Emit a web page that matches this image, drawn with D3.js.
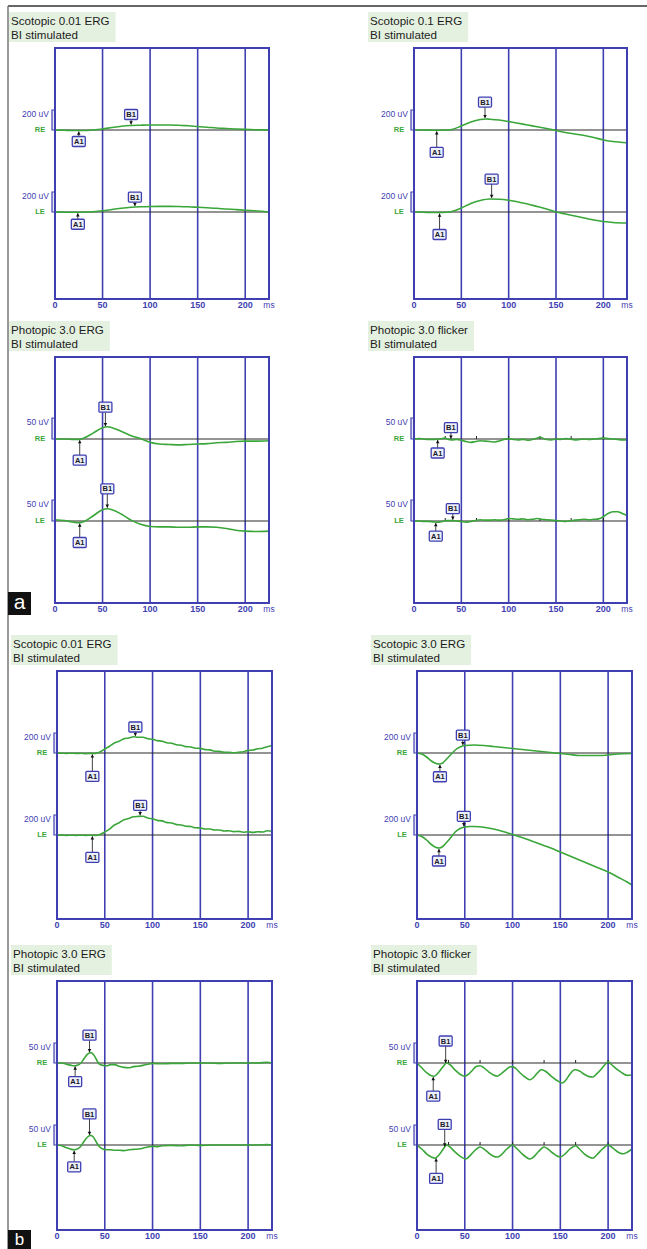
<!DOCTYPE html>
<html>

<head>
    <meta charset='utf-8'>
    <title>ERG</title>
    <script type='text/javascript' src='https://cdn.jsdelivr.net/npm/d3@7/dist/d3.min.js'></script>
    <style>
        body { margin: 0; background: #fff; }
        svg { display: block; font-family: 'Liberation Sans', Arial, sans-serif; }
    </style>
</head>

<body>
    <svg width='647' height='1249'></svg>
    <script type='text/javascript'>

        // ---- data (ms, uV) ----
        const titles = ['Scotopic 0.01 ERG', 'Scotopic 0.1 ERG', 'Photopic 3.0 ERG', 'Photopic 3.0 flicker',
            'Scotopic 0.01 ERG', 'Scotopic 3.0 ERG', 'Photopic 3.0 ERG', 'Photopic 3.0 flicker']
        const subtitle = 'BI stimulated'
        const unitValues = [200, 200, 50, 50, 200, 200, 50, 50]
        const eyes = ['RE', 'LE']
        const xTicks = [0, 50, 100, 150, 200]
        const stimTicks = [33, 66, 100, 133, 166, 200]
        const flickerPanels = [3, 7]

        const p1RE = [[0, 0], [10, -3], [20, -5], [30, -5], [40, 0], [50, 10], [60, 25], [70, 38], [80, 45], [90, 48], [100, 50], [110, 50], [120, 50], [130, 48], [140, 42], [150, 35], [160, 28], [170, 20], [180, 15], [190, 10], [200, 6], [210, 3], [225, 0]]
        const p1LE = [[0, 0], [10, -2], [20, -3], [30, -2], [40, 3], [50, 12], [60, 25], [70, 38], [80, 47], [90, 52], [100, 55], [110, 56], [120, 56], [130, 55], [140, 52], [150, 47], [160, 42], [170, 37], [180, 30], [190, 24], [200, 18], [210, 12], [220, 5], [225, 0]]
        const p2RE = [[0, 0], [10, 0], [20, -3], [30, -3], [40, 5], [50, 40], [60, 80], [70, 105], [76, 110], [80, 108], [90, 100], [100, 85], [110, 68], [120, 50], [130, 33], [140, 15], [150, -5], [160, -25], [170, -40], [180, -55], [190, -75], [200, -100], [210, -115], [225, -127]]
        const p2LE = [[0, 0], [10, -2], [20, -5], [30, -5], [40, 5], [50, 40], [60, 85], [70, 115], [80, 130], [90, 128], [100, 118], [110, 100], [120, 80], [130, 55], [140, 30], [150, 0], [160, -20], [170, -40], [180, -60], [190, -80], [200, -95], [210, -105], [225, -110]]
        const p3RE = [[0, 0], [10, 0], [20, -1], [25, -1], [30, 2], [40, 14], [50, 27], [55, 29], [60, 27], [70, 18], [80, 8], [90, 1], [100, -8], [110, -12], [120, -13], [130, -14], [140, -13], [150, -12], [160, -11], [170, -9], [180, -8], [190, -6], [200, -5], [210, -5], [225, -4]]
        const p3LE = [[0, 3], [10, 1], [20, -3], [25, -4], [30, -2], [40, 12], [50, 27], [55, 29], [60, 27], [70, 16], [80, 2], [90, -8], [100, -13], [110, -14], [120, -14], [130, -15], [140, -15], [150, -14], [160, -14], [170, -15], [180, -18], [190, -22], [200, -24], [210, -25], [225, -24]]
        const p4RE = [[0, 0], [5, 1], [10, 0], [15, -1], [20, -1], [25, 0], [30, 1], [33, 2], [35, 0], [40, -2], [45, -1], [50, -3], [55, -6], [60, -8], [65, -6], [70, -4], [75, -5], [80, -6], [85, -7], [90, -5], [95, -1], [100, 1], [105, -1], [110, -2], [115, -1], [120, -3], [125, -1], [130, 2], [133, 4], [136, 2], [140, -1], [145, -2], [150, 0], [155, -1], [160, 1], [165, 0], [170, -2], [175, -1], [180, 0], [185, -1], [190, 0], [195, 1], [200, 2], [205, 1], [210, 0], [215, -1], [220, -2], [225, -2]]
        const p4LE = [[0, 0], [5, 0], [10, -1], [15, -1], [20, -2], [25, -3], [30, -1], [35, 1], [40, 1], [45, 0], [50, -1], [55, -3], [60, -1], [65, 1], [70, 3], [75, 2], [80, 2], [85, 3], [90, 2], [95, 3], [100, 6], [105, 5], [110, 4], [115, 5], [120, 3], [125, 4], [130, 6], [135, 4], [140, 3], [145, 2], [150, 1], [155, 0], [160, -1], [165, 0], [170, 2], [175, 3], [180, 4], [185, 3], [190, 4], [195, 5], [200, 10], [205, 18], [210, 22], [215, 22], [220, 18], [225, 13]]
        const p5RE = [[0, 0], [5, -2], [10, -4], [15, -2], [20, -4], [25, -3], [30, -6], [35, -4], [40, -4], [45, 10], [50, 40], [55, 68], [60, 100], [65, 118], [70, 142], [75, 150], [80, 162], [85, 157], [90, 158], [95, 142], [100, 138], [105, 124], [110, 118], [115, 102], [120, 97], [125, 82], [130, 77], [135, 64], [140, 60], [145, 48], [150, 46], [155, 34], [160, 31], [165, 18], [170, 16], [175, 6], [180, 7], [185, 2], [190, 8], [195, 12], [200, 26], [205, 30], [210, 42], [215, 48], [220, 62], [225, 75]]
        const p5LE = [[0, 0], [5, -1], [10, -4], [15, -2], [20, -4], [25, -2], [30, -4], [35, -2], [40, -4], [45, 5], [50, 30], [55, 58], [60, 100], [65, 122], [70, 152], [75, 165], [80, 182], [85, 186], [90, 188], [95, 170], [100, 162], [105, 146], [110, 141], [115, 124], [120, 120], [125, 104], [130, 100], [135, 88], [140, 85], [145, 72], [150, 70], [155, 60], [160, 60], [165, 50], [170, 50], [175, 40], [180, 42], [185, 34], [190, 36], [195, 28], [200, 32], [205, 26], [210, 32], [215, 30], [220, 42], [225, 38]]
        const p6RE = [[0, 0], [5, -10], [10, -40], [15, -80], [20, -105], [23, -110], [27, -100], [30, -70], [35, -20], [40, 30], [45, 60], [50, 75], [60, 80], [70, 75], [80, 65], [90, 55], [100, 45], [110, 35], [120, 25], [130, 15], [140, 5], [150, -5], [160, -15], [170, -25], [180, -25], [190, -25], [200, -20], [210, -10], [225, -5]]
        const p6LE = [[0, 0], [5, -15], [10, -50], [15, -95], [20, -125], [23, -130], [27, -115], [30, -85], [35, -30], [40, 30], [45, 65], [50, 80], [55, 85], [60, 85], [70, 78], [80, 60], [90, 35], [100, 5], [110, -25], [120, -60], [130, -95], [140, -130], [150, -170], [160, -210], [170, -250], [180, -290], [190, -330], [200, -370], [210, -420], [220, -470], [225, -500]]
        const p7RE = [[0, 0], [5, 0], [10, -3], [15, -6], [18, -7], [22, -5], [25, 0], [28, 10], [32, 22], [35, 26], [38, 22], [41, 10], [44, -2], [48, -6], [52, -7], [56, -4], [60, -4], [65, -8], [70, -11], [75, -12], [80, -9], [85, -8], [90, -6], [95, -3], [100, -1], [110, -2], [120, -1], [130, -1], [140, 0], [150, 0], [160, 0], [170, -1], [180, 0], [190, 0], [200, 0], [210, 0], [220, 2], [225, 0]]
        const p7LE = [[0, 0], [5, -2], [10, -7], [15, -11], [18, -12], [22, -9], [25, -3], [28, 8], [32, 20], [35, 24], [38, 20], [41, 8], [44, -3], [48, -10], [52, -12], [56, -12], [60, -13], [65, -13], [70, -14], [75, -12], [80, -11], [85, -10], [90, -8], [95, -5], [100, -3], [105, -4], [110, -2], [120, -1], [130, -2], [140, 0], [150, -1], [160, 0], [170, 0], [180, 0], [190, 0], [200, 0], [210, 0], [220, 1], [225, 0]]
        const p8RE = [[0, 0], [5, -12], [10, -24], [15, -32], [18, -33], [22, -25], [27, -10], [31, 0], [35, -5], [40, -18], [45, -28], [50, -33], [54, -28], [58, -18], [62, -9], [66, -7], [70, -12], [75, -22], [80, -30], [84, -33], [88, -27], [93, -17], [97, -10], [100, -9], [104, -15], [108, -25], [113, -35], [118, -42], [122, -36], [126, -25], [130, -17], [134, -20], [140, -32], [146, -43], [152, -50], [156, -42], [160, -28], [165, -17], [170, -20], [175, -28], [180, -34], [184, -35], [188, -27], [193, -15], [197, -3], [200, 3], [204, -5], [210, -17], [216, -27], [220, -31], [225, -30]]
        const p8LE = [[0, 0], [5, -10], [10, -22], [15, -30], [19, -33], [23, -25], [27, -12], [31, 0], [35, -6], [40, -18], [45, -28], [51, -35], [55, -28], [60, -15], [66, -5], [70, -10], [75, -20], [80, -28], [84, -30], [88, -25], [94, -10], [100, 0], [104, -8], [110, -22], [114, -30], [118, -35], [122, -30], [127, -17], [133, -5], [137, -10], [142, -20], [146, -27], [150, -30], [155, -22], [160, -10], [166, -2], [170, -10], [175, -22], [180, -30], [184, -33], [188, -25], [194, -10], [200, 0], [205, -8], [212, -20], [216, -22], [220, -18], [225, -10]]

        const traces = [[p1RE, p1LE], [p2RE, p2LE], [p3RE, p3LE], [p4RE, p4LE],
        [p5RE, p5LE], [p6RE, p6LE], [p7RE, p7LE], [p8RE, p8LE]]

        // peak markers (ms) per panel: [RE, LE]
        const b1Times = [[80, 84], [75, 82], [53, 55], [39, 41], [82, 87], [48, 49], [34, 34], [30, 29]]
        const a1Times = [[25, 24], [24, 27], [26, 26], [25, 23], [37, 37], [24, 23], [19, 18], [17, 20]]

        // ---- layout ----
        const frameLeft = [[55, 414], [55, 414], [57, 417], [57, 417]]
        const frameRight = [[269, 627], [269, 627], [272, 632], [272, 632]]
        const frameTop = [48, 357, 671, 981]
        const frameBottom = [299, 603, 919, 1230]
        const baseOffset = [82, 164]
        const bracketPx = [20, 21, 20, 20]
        // arrow lengths: [RE B1, RE A1, LE B1, LE A1]
        const arrowLen = [[6, 6, 5, 7], [12, 17, 15, 17], [15, 16, 15, 15], [7, 9, 7, 9],
        [5, 18, 6, 17], [6, 8, 6, 8], [13, 11, 17, 12], [18, 15, 18, 16]]

        const blue = '#3f3fb2'
        const green = '#3aa63a'

        const svg = d3.select('svg')

        // figure border
        svg.append('line').attr('x1', 8).attr('x2', 647).attr('y1', 6).attr('y2', 6)
            .attr('stroke', '#333').attr('stroke-width', 1.5)
        svg.append('line').attr('x1', 8).attr('x2', 8).attr('y1', 6).attr('y2', 1249)
            .attr('stroke', '#777').attr('stroke-width', 1.5)

        const curve = d3.line().curve(d3.curveMonotoneX)

        function valueAt(data, t) {
            const i = d3.bisector(d => d[0]).left(data, t)
            if (i <= 0) return data[0][1]
            if (i >= data.length) return data[data.length - 1][1]
            const a = data[i - 1], b = data[i]
            return a[1] + (b[1] - a[1]) * (t - a[0]) / (b[0] - a[0])
        }

        function marker(g, label, px, py, len, down) {
            const bw = 13, bh = 10
            const boxY = down ? py - len - bh : py + len
            const tipY = down ? py - 1 : py + 1
            const tailY = down ? py - len : py + len
            g.append('line').attr('x1', px).attr('x2', px).attr('y1', tailY).attr('y2', tipY)
                .attr('stroke', '#111').attr('stroke-width', 0.8)
            const d = down ? -1 : 1
            g.append('path')
                .attr('d', `M${px},${tipY}L${px - 1.8},${tipY + d * 3.2}L${px + 1.8},${tipY + d * 3.2}Z`)
                .attr('fill', '#111')
            g.append('rect').attr('x', px - bw / 2).attr('y', boxY).attr('width', bw).attr('height', bh)
                .attr('rx', 1).attr('fill', '#eef0f8').attr('stroke', blue).attr('stroke-width', 1.3)
            g.append('text').attr('x', px).attr('y', boxY + bh / 2 + 2.6)
                .attr('text-anchor', 'middle').attr('font-size', 7.5).attr('font-weight', 'bold')
                .attr('fill', '#1a1a2a').text(label)
        }

        titles.forEach((title, i) => {
            const row = Math.floor(i / 2), col = i % 2
            const left = frameLeft[row][col], right = frameRight[row][col]
            const top = frameTop[row], bottom = frameBottom[row]
            const g = svg.append('g')

            const x = d3.scaleLinear().domain([0, 225]).range([left, right])

            // title box
            const tg = g.append('g')
            const tBox = tg.append('rect').attr('fill', '#e5f1e0')
            const t1 = tg.append('text').attr('x', left - 44).attr('y', top - 23)
                .attr('font-size', 11.6).attr('fill', '#1c1c1c').text(title)
            tg.append('text').attr('x', left - 44).attr('y', top - 9.5)
                .attr('font-size', 11.6).attr('fill', '#1c1c1c').text(subtitle)
            const tw = Math.max(t1.node().getComputedTextLength(), 60)
            tBox.attr('x', left - 46).attr('y', top - 36).attr('width', tw + 8).attr('height', 30)

            // grid lines and x labels
            g.selectAll('.grid').data(xTicks.filter(d => d > 0)).enter().append('line')
                .attr('x1', d => x(d)).attr('x2', d => x(d)).attr('y1', top).attr('y2', bottom)
                .attr('stroke', blue).attr('stroke-width', 1.6)
            g.selectAll('.xl').data(xTicks).enter().append('text')
                .attr('x', d => x(d)).attr('y', bottom + 8.5).attr('text-anchor', 'middle')
                .attr('font-size', 9).attr('font-weight', 'bold').attr('fill', blue).text(d => d)
            g.append('text').attr('x', right).attr('y', bottom + 8.5).attr('text-anchor', 'middle')
                .attr('font-size', 8.5).attr('fill', blue).text('ms')

            traces[i].forEach((data, e) => {
                const base = top + baseOffset[e]
                const y = d3.scaleLinear().domain([0, unitValues[i]]).range([base, base - bracketPx[row]])

                // baseline
                g.append('line').attr('x1', left).attr('x2', right).attr('y1', base).attr('y2', base)
                    .attr('stroke', '#2a2a2a').attr('stroke-width', 1.2)

                // stimulus ticks on flicker baselines
                if (flickerPanels.includes(i)) {
                    g.selectAll(null).data(stimTicks).enter().append('line')
                        .attr('x1', d => x(d)).attr('x2', d => x(d)).attr('y1', base).attr('y2', base - 3)
                        .attr('stroke', '#222').attr('stroke-width', 1)
                }

                // amplitude bracket and labels
                g.append('path')
                    .attr('d', `M${left},${y(unitValues[i])}H${left - 3}V${y(0)}H${left}`)
                    .attr('fill', '#e8e8f6').attr('stroke', blue).attr('stroke-width', 1.2)
                g.append('text').attr('x', left - 6).attr('y', y(unitValues[i]) + 7)
                    .attr('text-anchor', 'end').attr('font-size', 8.5).attr('fill', blue)
                    .text(unitValues[i] + ' uV')
                g.append('text').attr('x', left - 15).attr('y', base + 2)
                    .attr('text-anchor', 'middle').attr('font-size', 7.5).attr('font-weight', 'bold')
                    .attr('fill', green).text(eyes[e])

                // trace
                g.append('path').attr('d', curve(data.map(d => [x(d[0]), y(d[1])])))
                    .attr('fill', 'none').attr('stroke', green).attr('stroke-width', 1.6)

                // markers
                const tb = b1Times[i][e], ta = a1Times[i][e]
                marker(g, 'B1', x(tb), y(valueAt(data, tb)), arrowLen[i][e * 2], true)
                marker(g, 'A1', x(ta), y(valueAt(data, ta)), arrowLen[i][e * 2 + 1], false)
            })

            // frame
            g.append('rect').attr('x', left).attr('y', top).attr('width', right - left).attr('height', bottom - top)
                .attr('fill', 'none').attr('stroke', blue).attr('stroke-width', 2)
        })

        // panel letters
        const letters = [['a', 592, 23, 17, 21], ['b', 1230, 19, 15, 17]]
        letters.forEach(([l, yTop, h, dy, fs]) => {
            svg.append('rect').attr('x', 8).attr('y', yTop).attr('width', 23).attr('height', h).attr('fill', '#111')
            svg.append('text').attr('x', 19.5).attr('y', yTop + dy).attr('text-anchor', 'middle')
                .attr('font-size', fs).attr('fill', '#fff').text(l)
        })
    </script>
</body>

</html>
